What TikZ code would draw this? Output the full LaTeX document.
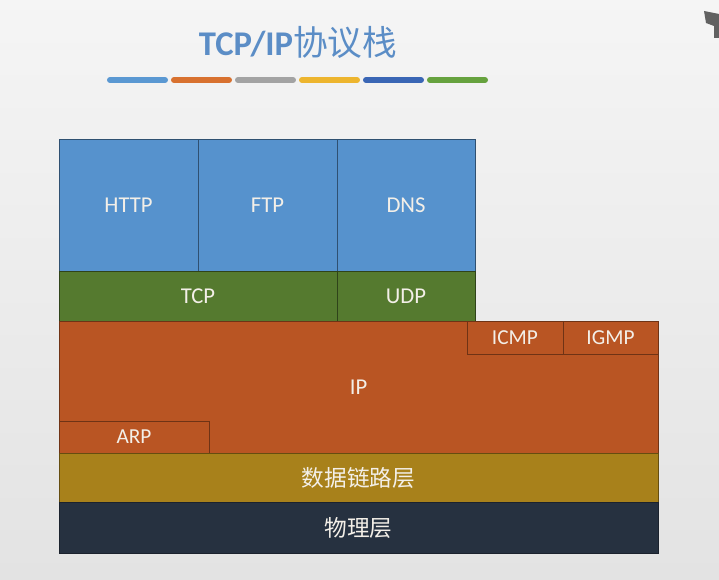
\documentclass[tikz,border=0pt]{standalone}
\usepackage{fontspec}
\setmainfont{Carlito}
\newfontfamily\cjk{Noto Sans CJK SC}
\usepackage{xcolor}
\usepackage{tikz}
\usetikzlibrary{positioning}
\definecolor{appblue}{HTML}{5692CD}
\definecolor{tpgreen}{HTML}{557A2F}
\definecolor{iporange}{HTML}{B95523}
\definecolor{linkgold}{HTML}{A8811B}
\definecolor{physnavy}{HTML}{263140}
\definecolor{titleblue}{HTML}{5B8DC6}
\definecolor{labelwhite}{HTML}{F3EFE8}
\definecolor{barblue}{HTML}{5A98D2}
\definecolor{barorange}{HTML}{D8712F}
\definecolor{bargray}{HTML}{A3A3A3}
\definecolor{bargold}{HTML}{EDB52E}
\definecolor{barnavy}{HTML}{3A66B5}
\definecolor{bargreen}{HTML}{66A23E}
\tikzset{
  layer/.style={rectangle, outer sep=0pt, inner sep=0pt, line width=0.6pt,
                font=\fontsize{17}{20}\selectfont, text=labelwhite, align=center},
  app/.style={layer, fill=appblue, draw=appblue!55!black,
              minimum width=104.25pt, minimum height=99pt},
  trans/.style={layer, fill=tpgreen, draw=tpgreen!55!black, minimum height=37.5pt},
  net/.style={layer, fill=iporange, draw=iporange!60!black},
  bottom/.style={layer, minimum width=449.25pt},
  bar/.style={line width=4.5pt, line cap=round},
}

\begin{document}
\begin{tikzpicture}[x=0.75pt, y=-0.75pt, node distance=0pt]
    \useasboundingbox[shading=axis, top color=black!4, bottom color=black!11]
      (0,0) rectangle (719,580);
    % title and colour strip
    \node[text=titleblue, font=\fontsize{26}{30}\selectfont\bfseries] (title) at (298,42)
      {TCP/IP{\cjk\mdseries 协议栈}};
    \foreach \xa/\col in {110/barblue, 174/barorange, 238/bargray, 302/bargold,
                          366/barnavy, 430/bargreen} {
      \draw[bar, draw=\col] (\xa,80) -- ++(55,0);
    }
    % application layer
    \node[app, anchor=north west] (http) at (59,139) {HTTP};
    \node[app, right=of http] (ftp) {FTP};
    \node[app, right=of ftp, minimum width=103.5pt] (dns) {DNS};
    % transport layer
    \node[trans, below=of http.south west, anchor=north west, minimum width=208.5pt] (tcp) {TCP};
    \node[trans, right=of tcp, minimum width=103.5pt] (udp) {UDP};
    % network layer
    \node[net, below=of tcp.south west, anchor=north west,
          minimum width=449.25pt, minimum height=99pt] (ip) {IP};
    \node[net, font=\fontsize{16}{19}\selectfont, anchor=north east,
          minimum width=71.25pt, minimum height=24.75pt] (igmp) at (ip.north east) {IGMP};
    \node[net, font=\fontsize{16}{19}\selectfont, left=of igmp,
          minimum width=72pt, minimum height=24.75pt] (icmp) {ICMP};
    \node[net, font=\fontsize{16}{19}\selectfont, anchor=south west,
          minimum width=112.5pt, minimum height=24pt] (arp) at (ip.south west) {ARP};
    % link and physical
    \node[bottom, fill=linkgold, draw=linkgold!60!black, minimum height=36.75pt,
          below=of ip] (link) {\cjk 数据链路层};
    \node[bottom, fill=physnavy, draw=physnavy!70!black, minimum height=38.25pt,
          below=of link] (phys) {\cjk 物理层};
    % corner icon
    \fill[black!62] (704,11) -- (719,14) -- (719,38) -- (714,38) -- (714,26) -- (706,23) -- cycle;
\end{tikzpicture}
\end{document}
